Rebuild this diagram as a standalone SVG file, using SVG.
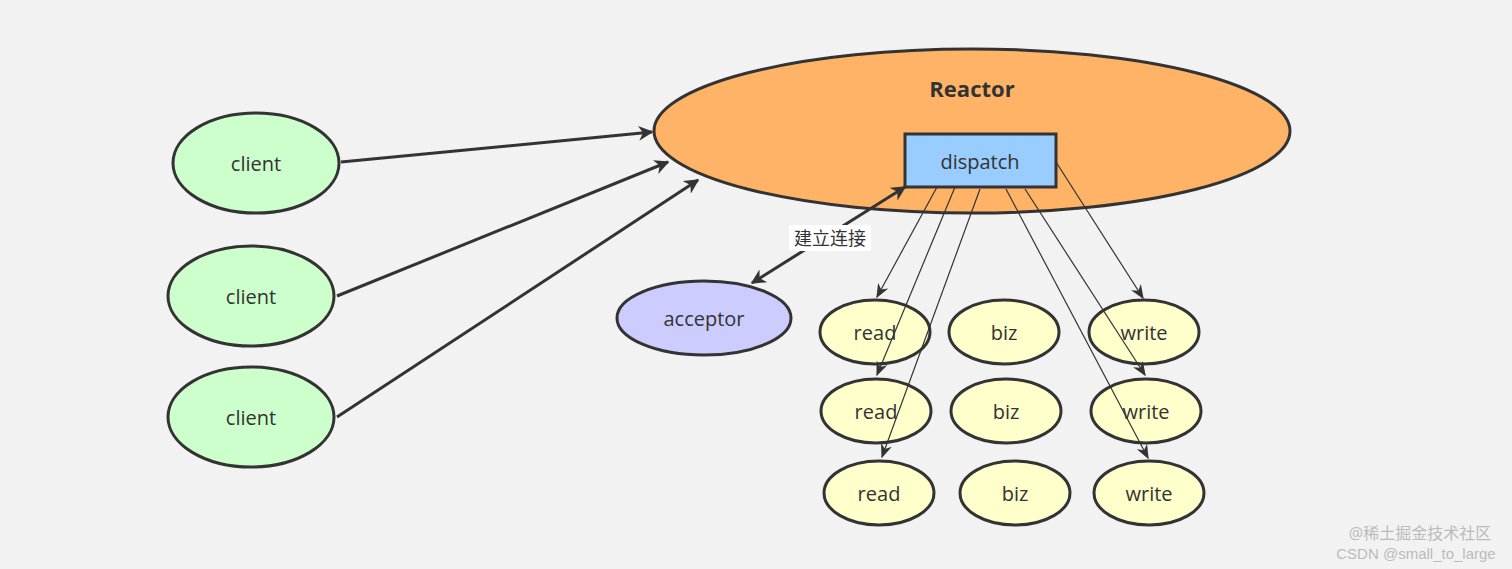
<svg xmlns="http://www.w3.org/2000/svg" width="1512" height="569" viewBox="0 0 1512 569">
<style>
text{font-family:"Open Sans","Noto Sans","Noto Sans CJK SC",sans-serif;font-size:20px;fill:#333;text-anchor:middle;dominant-baseline:central}
.n{stroke:#333;stroke-width:3}
.y{fill:#ffffcc}
.c{fill:#ccffcc}
.thick{stroke:#333;stroke-width:3;fill:none}
.thin{stroke:#333;stroke-width:1.2;fill:none}
</style>
<defs>
<marker id="a" viewBox="0 0 10 10" refX="9" refY="5" markerWidth="5" markerHeight="5" orient="auto-start-reverse"><path d="M0,0L10,5L0,10L3,5z" fill="#333"/></marker>
<marker id="b" viewBox="0 0 10 10" refX="9" refY="5" markerWidth="12" markerHeight="12" orient="auto"><path d="M0,1L10,5L0,9L3,5z" fill="#333"/></marker>
</defs>
<rect width="1512" height="569" fill="#f2f2f2"/>
<g id="reactor"><ellipse class="n" cx="972" cy="131" rx="318" ry="82" fill="#ffb366"/><text x="972" y="88" style="font-weight:bold;font-size:22px">Reactor</text></g>
<g id="dispatch"><rect class="n" x="905" y="134" width="151" height="53" fill="#99ccff"/><text x="980" y="161">dispatch</text></g>
<g id="client1"><ellipse class="n c" cx="256" cy="163" rx="83" ry="50"/><text x="256" y="163">client</text></g>
<g id="client2"><ellipse class="n c" cx="251" cy="296" rx="83" ry="50"/><text x="251" y="296">client</text></g>
<g id="client3"><ellipse class="n c" cx="251" cy="417" rx="83" ry="50"/><text x="251" y="417">client</text></g>
<g id="acceptor"><ellipse class="n" cx="704" cy="318" rx="87" ry="37" fill="#ccccff"/><text x="704" y="318">acceptor</text></g>
<g id="read1"><ellipse class="n y" cx="875" cy="332" rx="55" ry="32"/><text x="875" y="332">read</text></g>
<g id="read2"><ellipse class="n y" cx="876" cy="411" rx="55" ry="32"/><text x="876" y="411">read</text></g>
<g id="read3"><ellipse class="n y" cx="879" cy="493" rx="55" ry="32"/><text x="879" y="493">read</text></g>
<g id="biz1"><ellipse class="n y" cx="1004" cy="332" rx="55" ry="32"/><text x="1004" y="332">biz</text></g>
<g id="biz2"><ellipse class="n y" cx="1006" cy="411" rx="55" ry="32"/><text x="1006" y="411">biz</text></g>
<g id="biz3"><ellipse class="n y" cx="1015" cy="493" rx="55" ry="32"/><text x="1015" y="493">biz</text></g>
<g id="write1"><ellipse class="n y" cx="1144" cy="332" rx="55" ry="32"/><text x="1144" y="332">write</text></g>
<g id="write2"><ellipse class="n y" cx="1146" cy="411" rx="55" ry="32"/><text x="1146" y="411">write</text></g>
<g id="write3"><ellipse class="n y" cx="1149" cy="493" rx="55" ry="32"/><text x="1149" y="493">write</text></g>
<g id="connectors">
<path class="thick" d="M341,162L652,132" marker-end="url(#a)"/>
<path class="thick" d="M337,296L668,162" marker-end="url(#a)"/>
<path class="thick" d="M337,417L698,180" marker-end="url(#a)"/>
<path class="thick" d="M752,283L905,187" marker-start="url(#a)" marker-end="url(#a)"/>
<path class="thin" d="M937,187L877,297" marker-end="url(#b)"/>
<path class="thin" d="M955,187L877,375" marker-end="url(#b)"/>
<path class="thin" d="M980,189L882,457" marker-end="url(#b)"/>
<path class="thin" d="M1006,189L1148,458" marker-end="url(#b)"/>
<path class="thin" d="M1025,189L1145,375" marker-end="url(#b)"/>
<path class="thin" d="M1056,162L1143,298" marker-end="url(#b)"/>
<rect x="789" y="225" width="82" height="26" fill="#fff"/>
<text x="830" y="238" style="font-size:18px">建立连接</text>
</g>
<text x="1420" y="533" style="font-size:16px;fill:#bbb">@稀土掘金技术社区</text>
<text x="1416" y="553" style="font-size:15px;fill:#bbb;font-family:'Liberation Sans',sans-serif">CSDN @small_to_large</text>
</svg>
